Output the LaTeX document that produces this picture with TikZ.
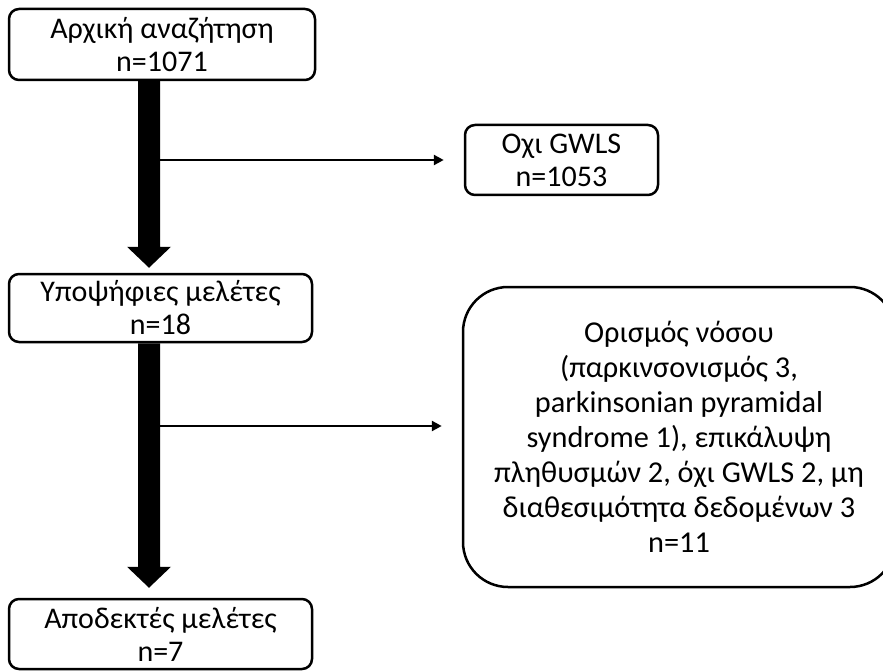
\documentclass[tikz,border=0pt]{standalone}
\usepackage{fontspec}
\setmainfont{Carlito}
\usetikzlibrary{arrows.meta,calc}
\newcommand\fatarrow[2]{%
  \fill let \p1=(#1), \p2=(#2) in
    (\x1-11pt,\y1) -- (\x1+11pt,\y1) -- (\x1+11pt,\y2+21pt) -- (\x1+22pt,\y2+21pt)
    -- (\x1,\y2) -- (\x1-22pt,\y2+21pt) -- (\x1-11pt,\y2+21pt) -- cycle;}
\begin{document}
\begin{tikzpicture}[x=1pt,y=-1pt,
  box/.style={draw, line width=2.5pt, rounded corners=10pt, align=center,
    inner sep=0pt, font=\fontsize{30}{33}\selectfont},
  thinarrow/.style={line width=2.5pt, -{Triangle[length=10pt,width=10pt]}}]
\clip (0,0) rectangle (883,671);
\fill[white] (0,0) rectangle (883,671);
\node[box, minimum width=306pt, minimum height=71pt] (b1) at (162,44.5)
  {Αρχική αναζήτηση\\n=1071};
\node[box, minimum width=303pt, minimum height=68pt] (b2) at (160.5,308)
  {Υποψήφιες μελέτες\\n=18};
\node[box, minimum width=303pt, minimum height=70pt] (b3) at (160.5,634)
  {Αποδεκτές μελέτες\\n=7};
\node[box, minimum width=193pt, minimum height=70pt] (n1) at (561.5,160)
  {Οχι GWLS\\n=1053};
\node[box, rounded corners=45pt, minimum width=432pt, minimum height=300pt,
  font=\fontsize{30.3}{35}\selectfont] (n2) at (679,437)
  {Ορισμός νόσου\\(παρκινσονισμός 3,\\parkinsonian pyramidal\\syndrome 1), επικάλυψη\\πληθυσμών 2, όχι GWLS 2, μη\\διαθεσιμότητα δεδομένων 3\\n=11};
\coordinate (sx) at (149,0);
\coordinate (sr) at (160,0);
\coordinate (a1s) at (b1.south -| sx);
\coordinate (a1e) at ([yshift=5pt]b2.north -| sx);
\coordinate (a2s) at (b2.south -| sx);
\coordinate (a2e) at ([yshift=10pt]b3.north -| sx);
\fatarrow{a1s}{a1e}
\fatarrow{a2s}{a2e}
\coordinate (br1) at (sr |- n1.west);
\coordinate (br2) at (160,426);
\draw[thinarrow, shorten >=20pt] (br1) -- (n1.west);
\draw[thinarrow, shorten >=20pt] (br2) -- (br2 -| n2.west);
\end{tikzpicture}
\end{document}
